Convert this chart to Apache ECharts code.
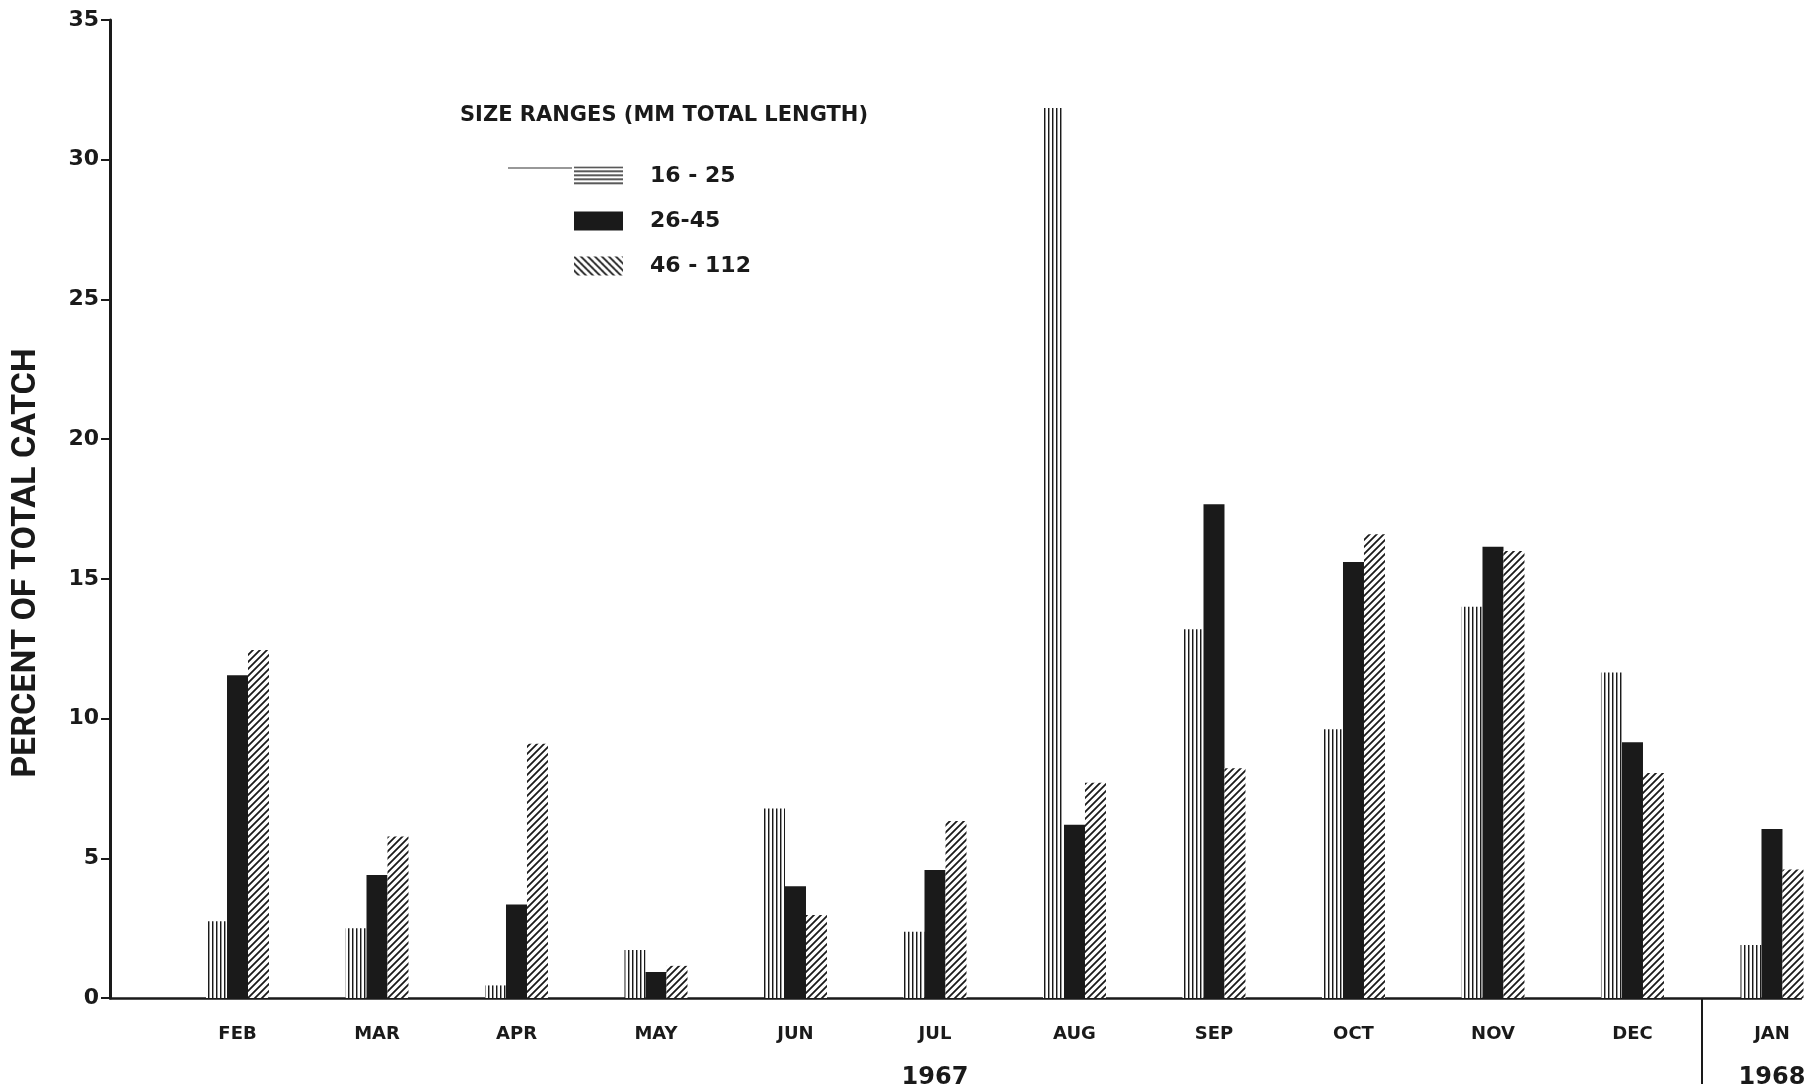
<!DOCTYPE html>
<html>
<head>
<meta charset="utf-8">
<script src="https://cdn.jsdelivr.net/npm/echarts@6/dist/echarts.min.js"></script>
<style>
html,body{margin:0;padding:0;background:#fff;}
#chart{width:1816px;height:1092px;}
</style>
</head>
<body>
<div id="chart"></div>
<script>
// ---- data ----
const months = ['FEB','MAR','APR','MAY','JUN','JUL','AUG','SEP','OCT','NOV','DEC','JAN'];
const sizeRanges = ['16 - 25','26-45','46 - 112'];
const s16to25  = [2.75, 2.5, 0.45, 1.72, 6.78, 2.37, 31.85, 13.2, 9.62, 14.0, 11.65, 1.9];
const s26to45  = [11.55, 4.4, 3.35, 0.93, 4.0, 4.58, 6.2, 17.67, 15.6, 16.15, 9.15, 6.05];
const s46to112 = [12.45, 5.78, 9.1, 1.15, 2.97, 6.33, 7.7, 8.22, 16.6, 16.0, 8.05, 4.6];
const yearMonths = ['JUL','JAN'];
const yearLabels = ['1967','1968'];
const yearBreak = 11.5; // between DEC 1967 and JAN 1968
const yTitle = 'PERCENT OF TOTAL CATCH';
const legendTitle = 'SIZE RANGES (MM TOTAL LENGTH)';

const INK = '#1a1a1a';
const FONT = '"DejaVu Sans", "Open Sans", sans-serif';

function makePattern(kind) {
  const s = (kind === 'vert' || kind === 'horiz') ? 4 : 7;
  const c = document.createElement('canvas');
  c.width = s; c.height = s;
  const g = c.getContext('2d');
  g.fillStyle = '#fff'; g.fillRect(0, 0, s, s);
  if (kind === 'vert') {
    g.fillStyle = INK; g.fillRect(0, 0, 1, s);
    g.fillStyle = 'rgba(26,26,26,0.45)'; g.fillRect(1, 0, 1, s);
  } else if (kind === 'horiz') {
    g.fillStyle = INK; g.fillRect(0, 0, s, 1);
    g.fillStyle = 'rgba(26,26,26,0.45)'; g.fillRect(0, 1, s, 1);
  } else {
    g.strokeStyle = INK; g.lineWidth = 1.8; g.lineCap = 'square';
    g.beginPath();
    if (kind === 'slash') {
      g.moveTo(0, s); g.lineTo(s, 0);
      g.moveTo(-1, 1); g.lineTo(1, -1);
      g.moveTo(s - 1, s + 1); g.lineTo(s + 1, s - 1);
    } else {
      g.moveTo(0, 0); g.lineTo(s, s);
      g.moveTo(-1, s - 1); g.lineTo(1, s + 1);
      g.moveTo(s - 1, -1); g.lineTo(s + 1, 1);
    }
    g.stroke();
  }
  return { image: c, repeat: 'repeat' };
}

const pVert = makePattern('vert');
const pHoriz = makePattern('horiz');
const pSlash = makePattern('slash');
const pBack = makePattern('back');

const seriesValues = [s16to25, s26to45, s46to112];
const barColors = [pVert, INK, pSlash];
const legendColors = [pHoriz, INK, pBack];

const chart = echarts.init(document.getElementById('chart'), null, { renderer: 'canvas' });

const option = {
  backgroundColor: '#ffffff',
  animation: false,
  grid: { left: 110, right: 15, top: 20, bottom: 94, containLabel: false },
  title: {
    text: legendTitle,
    left: 455, top: 100,
    textStyle: { fontFamily: FONT, fontWeight: 'bold', fontSize: 21, color: INK }
  },
  legend: {
    orient: 'vertical',
    left: 569, top: 160,
    itemWidth: 49, itemHeight: 19, itemGap: 23,
    icon: 'rect',
    data: sizeRanges.map((n, i) => ({ name: n, itemStyle: { color: legendColors[i] } })),
    textStyle: { fontFamily: FONT, fontWeight: 'bold', fontSize: 22, color: INK, padding: [0, 0, 0, 22] }
  },
  xAxis: {
    type: 'value',
    min: 0.086,
    max: 12.208,
    splitLine: { show: false },
    axisLine: { show: true, onZero: false, lineStyle: { color: INK, width: 2.5 } },
    axisTick: { show: true, customValues: [yearBreak], length: 86, inside: false, lineStyle: { color: INK, width: 2 } },
    axisLabel: {
      show: true,
      customValues: months.map((m, i) => i + 1),
      margin: 24,
      formatter: function (v) {
        const m = months[Math.round(v) - 1];
        const yi = yearMonths.indexOf(m);
        return yi >= 0 ? '{m|' + m + '}\n{y|' + yearLabels[yi] + '}' : '{m|' + m + '}';
      },
      rich: {
        m: { fontFamily: FONT, fontWeight: 'bold', fontSize: 18, color: INK, lineHeight: 24 },
        y: { fontFamily: FONT, fontWeight: 'bold', fontSize: 24, color: INK, lineHeight: 64 }
      }
    }
  },
  yAxis: {
    type: 'value',
    min: 0, max: 35, interval: 5,
    splitLine: { show: false },
    axisLine: { show: true, onZero: false, lineStyle: { color: INK, width: 3 } },
    axisTick: { show: true, length: 9, lineStyle: { color: INK, width: 2 } },
    axisLabel: { margin: 11, fontFamily: FONT, fontWeight: 'bold', fontSize: 22, color: INK }
  },
  graphic: [
    {
      type: 'text',
      x: 26, y: 563,
      rotation: Math.PI / 2,
      style: {
        text: yTitle,
        fontFamily: 'Roboto, "DejaVu Sans", sans-serif',
        fontWeight: 'bold',
        fontSize: 34,
        fill: INK,
        textAlign: 'center',
        textVerticalAlign: 'middle'
      }
    },
    {
      type: 'line',
      shape: { x1: 508, y1: 168, x2: 572, y2: 168 },
      style: { stroke: '#333', lineWidth: 1.2 }
    }
  ],
  series: sizeRanges.map((name, si) => ({
    name: name,
    type: 'bar',
    barWidth: 21,
    barGap: '0%',
    itemStyle: { color: barColors[si] },
    data: seriesValues[si].map((v, i) => [i + 1, v])
  }))
};

chart.setOption(option);
</script>
</body>
</html>
